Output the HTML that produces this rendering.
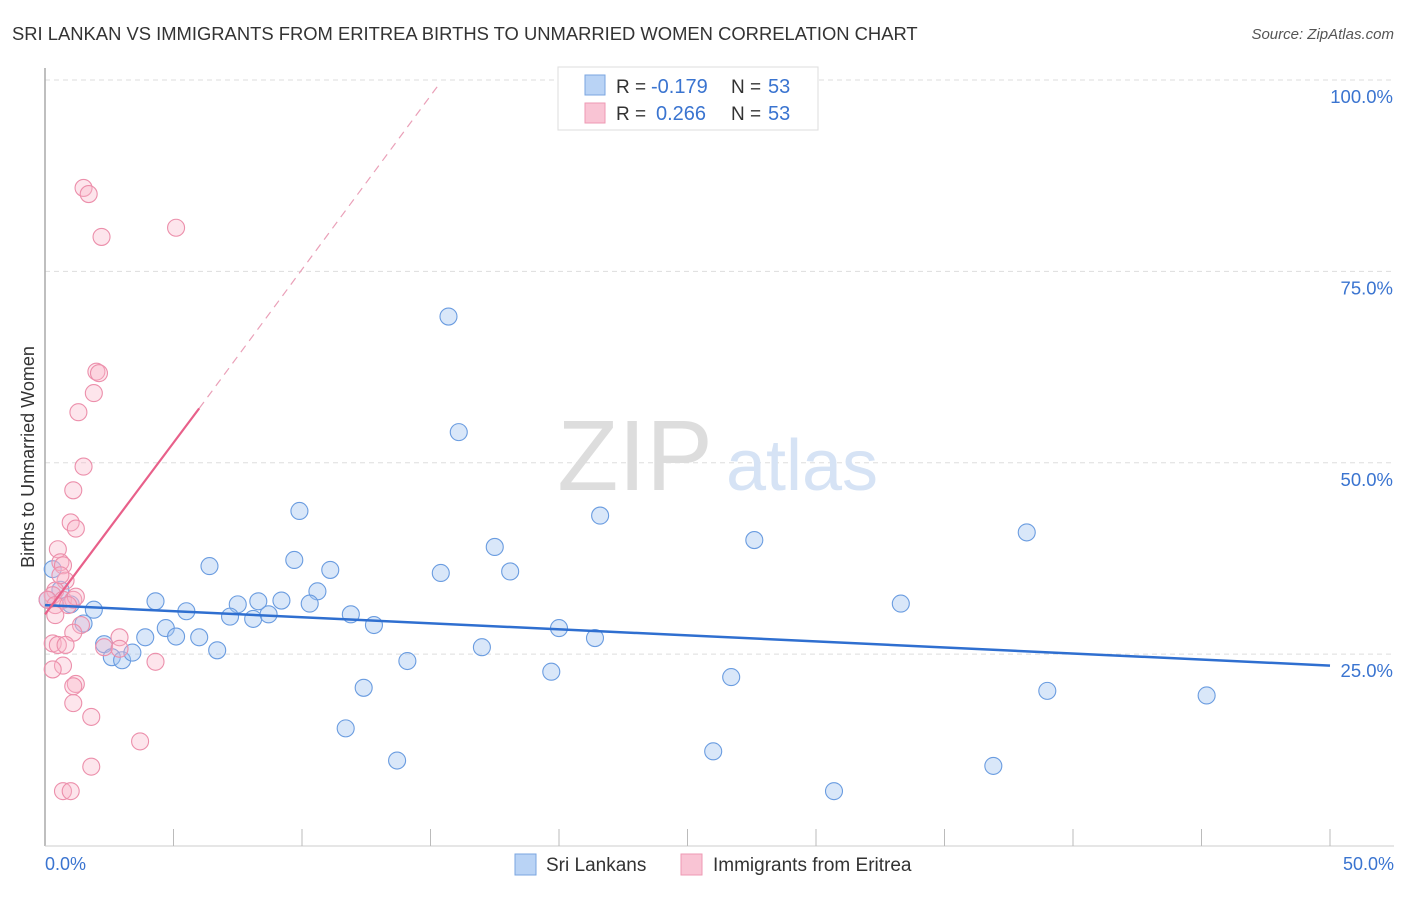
<!DOCTYPE html>
<html><head><meta charset="utf-8"><style>
body{margin:0;background:#fff;font-family:"Liberation Sans",sans-serif;}
svg text{font-family:"Liberation Sans",sans-serif;}
</style></head><body>
<svg id="chart" width="1406" height="892" xmlns="http://www.w3.org/2000/svg">
<text x="12" y="40" font-size="18.4" fill="#333">SRI LANKAN VS IMMIGRANTS FROM ERITREA BIRTHS TO UNMARRIED WOMEN CORRELATION CHART</text>
<text x="1394" y="39" font-size="15" fill="#555" text-anchor="end" font-style="italic">Source: ZipAtlas.com</text>
<g id="grid"></g>
<text x="635" y="490" font-size="100" fill="#ddd" font-family="Liberation Serif" text-anchor="middle">ZIP</text>
<text x="802" y="490" font-size="72" fill="#d6e3f5" text-anchor="middle">atlas</text>
<line x1="45" y1="68" x2="45" y2="846" stroke="#aaa" stroke-width="1.5"/>
<line x1="45" y1="846" x2="1394" y2="846" stroke="#ccc"/>
<g id="xticks"></g>
<text x="45" y="870" font-size="18" fill="#3a74d0">0.0%</text>
<text x="1394" y="870" font-size="18" fill="#3a74d0" text-anchor="end">50.0%</text>
<text transform="translate(34,457) rotate(-90)" font-size="18" fill="#333" text-anchor="middle">Births to Unmarried Women</text>
<g id="pts"></g>
<g id="lines"></g>
<g>
<rect x="558" y="67" width="260" height="63" fill="#fff" stroke="#ddd"/>
<rect x="585" y="75" width="20" height="20" fill="#b9d3f5" stroke="#7aa6e0"/>
<rect x="585" y="103" width="20" height="20" fill="#f9c4d4" stroke="#ee99b3"/>
<text x="616" y="93" font-size="19" fill="#333">R =</text>
<text x="651" y="93" font-size="20" fill="#3a74d0">-0.179</text>
<text x="731" y="93" font-size="19" fill="#333">N =</text>
<text x="768" y="93" font-size="20" fill="#3a74d0">53</text>
<text x="616" y="120" font-size="19" fill="#333">R =</text>
<text x="656" y="120" font-size="20" fill="#3a74d0">0.266</text>
<text x="731" y="120" font-size="19" fill="#333">N =</text>
<text x="768" y="120" font-size="20" fill="#3a74d0">53</text>
</g>
<g>
<rect x="515" y="854" width="21" height="21" fill="#b9d3f5" stroke="#7aa6e0"/>
<text x="546" y="871" font-size="19" fill="#333">Sri Lankans</text>
<rect x="681" y="854" width="21" height="21" fill="#f9c4d4" stroke="#ee99b3"/>
<text x="713" y="871" font-size="19" fill="#333">Immigrants from Eritrea</text>
</g>
</svg>
<script>
const yTicks=[25,50,75,100];
const yTickLabels=["25.0%","50.0%","75.0%","100.0%"];
const blueX=[15.7,16.1,9.9,21.6,6.4,9.7,11.1,10.6,4.3,5.5,7.5,8.3,9.2,10.3,7.2,8.1,8.7,11.9,15.4,17.5,18.1,27.6,38.2,33.3,4.7,3.9,5.1,6.0,6.7,12.8,20.0,21.4,17.0,14.1,12.4,19.7,26.7,39.0,45.2,11.7,13.7,26.0,36.9,30.7,1.9,1.5,2.3,2.6,3.0,3.4,0.3,0.6,1.0,0.1];
const blueY=[69.1,54.0,43.7,43.1,36.5,37.3,36.0,33.2,31.9,30.6,31.5,31.9,32.0,31.6,29.9,29.6,30.2,30.2,35.6,39.0,35.8,39.9,40.9,31.6,28.4,27.2,27.3,27.2,25.5,28.8,28.4,27.1,25.9,24.1,20.6,22.7,22.0,20.2,19.6,15.3,11.1,12.3,10.4,7.1,30.8,29.0,26.3,24.6,24.2,25.2,36.1,33.4,31.5,32.1];
const pinkX=[1.5,1.7,2.2,5.1,2.0,2.1,1.9,1.3,1.5,1.1,1.0,1.2,0.5,0.6,0.7,0.8,0.4,0.3,0.1,0.7,1.1,1.2,0.4,0.4,1.4,1.1,0.3,0.5,0.8,2.9,2.3,2.9,4.3,0.7,0.3,1.2,1.1,1.1,1.8,3.7,1.8,0.7,1.0,0.6,0.9];
const pinkY=[85.9,85.1,79.5,80.7,61.9,61.7,59.1,56.6,49.5,46.4,42.2,41.4,38.7,37.0,36.6,34.6,33.3,32.7,32.1,32.1,32.1,32.5,31.4,30.1,28.8,27.8,26.4,26.2,26.2,27.2,25.9,25.7,24.0,23.5,23.0,21.1,20.8,18.6,16.8,13.6,10.3,7.1,7.1,35.3,31.4];
const blueTrend=[0,31.4,50,23.5];
const pinkTrend=[0,30.2,6.0,57.1,15.3,99.3];
const X=v=>45+v*25.7, Y=v=>845.5-v*7.655;
const NS="http://www.w3.org/2000/svg";
function mk(t,a,p){const e=document.createElementNS(NS,t);for(const k in a)e.setAttribute(k,a[k]);p.appendChild(e);return e;}
const grid=document.getElementById('grid');
yTicks.forEach((v,i)=>{
 const l=mk('line',{x1:45,x2:1394,y1:Y(v),y2:Y(v),stroke:'#ddd','stroke-dasharray':'5,4'},grid);
 
 
 const t=mk('text',{x:1393,y:Y(v)+23,'font-size':18.5,fill:'#3a74d0','text-anchor':'end'},grid);
 t.textContent=yTickLabels[i];
 
 
});
const xt=document.getElementById('xticks');
for(let i=1;i<=10;i++){const xx=45+i*128.5;const l=mk('line',{x1:xx,x2:xx,y1:829,y2:846,stroke:'#bbb'},xt);
 
 }
const pts=document.getElementById('pts');
blueX.forEach((v,i)=>{const c=mk('circle',{cx:X(v),cy:Y(blueY[i]),r:8.5,fill:'rgba(160,196,240,0.4)',stroke:'#6a9ce0','stroke-width':1.1},pts);
 
 });
pinkX.forEach((v,i)=>{const c=mk('circle',{cx:X(v),cy:Y(pinkY[i]),r:8.5,fill:'rgba(248,180,200,0.35)',stroke:'#ec8fab','stroke-width':1.1},pts);
 
 });
const ln=document.getElementById('lines');
const b=mk('line',{x1:X(blueTrend[0]),y1:Y(blueTrend[1]),x2:X(blueTrend[2]),y2:Y(blueTrend[3]),stroke:'#2f6fd0','stroke-width':2.5},ln);


const p=mk('line',{x1:X(pinkTrend[0]),y1:Y(pinkTrend[1]),x2:X(pinkTrend[2]),y2:Y(pinkTrend[3]),stroke:'#e8608a','stroke-width':2.2},ln);


const pd=mk('line',{x1:X(pinkTrend[2]),y1:Y(pinkTrend[3]),x2:X(pinkTrend[4]),y2:Y(pinkTrend[5]),stroke:'#eaa0b8','stroke-width':1.2,'stroke-dasharray':'8,6'},ln);


</script>
</body></html>
